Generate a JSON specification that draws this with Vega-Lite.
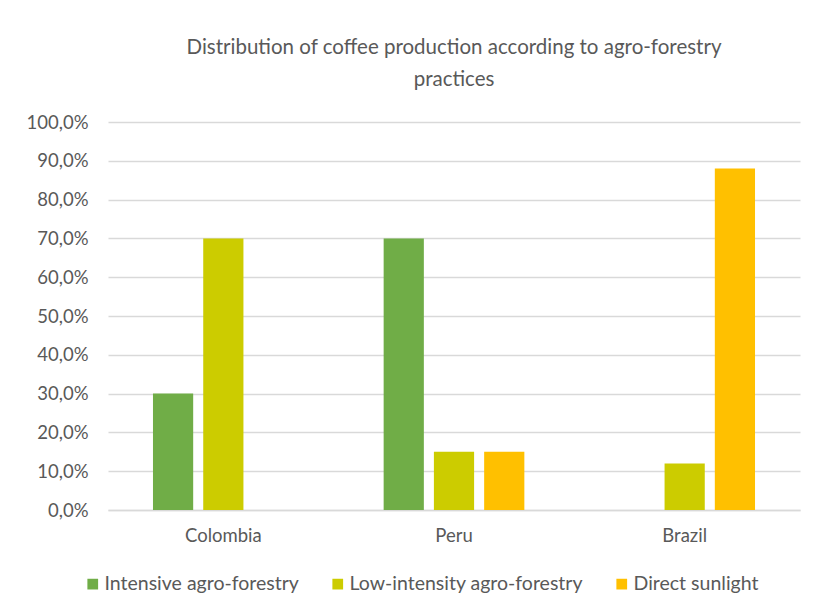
{
  "$schema": "https://vega.github.io/schema/vega-lite/v6.json",
  "autosize": "none",
  "width": 692,
  "height": 388,
  "padding": {"left": 108, "top": 122, "right": 13, "bottom": 101},
  "background": "white",
  "title": {
    "text": ["Distribution of coffee production according to agro-forestry", "practices"],
    "fontSize": 20.5,
    "font": "Lato, sans-serif",
    "fontWeight": "normal",
    "color": "#595959",
    "lineHeight": 32,
    "anchor": "middle",
    "offset": 23
  },
  "data": {
    "values": [
      {"country": "Colombia", "practice": "Intensive agro-forestry", "share": 0.30},
      {"country": "Colombia", "practice": "Low-intensity agro-forestry", "share": 0.70},
      {"country": "Peru", "practice": "Intensive agro-forestry", "share": 0.70},
      {"country": "Peru", "practice": "Low-intensity agro-forestry", "share": 0.15},
      {"country": "Peru", "practice": "Direct sunlight", "share": 0.15},
      {"country": "Brazil", "practice": "Low-intensity agro-forestry", "share": 0.12},
      {"country": "Brazil", "practice": "Direct sunlight", "share": 0.88}
    ]
  },
  "mark": {"type": "bar"},
  "encoding": {
    "x": {
      "field": "country",
      "type": "nominal",
      "sort": ["Colombia", "Peru", "Brazil"],
      "scale": {"paddingInner": 0.39, "paddingOuter": 0.195},
      "axis": {
        "title": null,
        "labelAngle": 0,
        "ticks": false,
        "labelPadding": 16,
        "labelFontSize": 18.5,
        "labelColor": "#595959",
        "labelFont": "Lato, sans-serif",
        "domainColor": "#D9D9D9",
        "domainWidth": 1.5
      }
    },
    "xOffset": {
      "field": "practice",
      "type": "nominal",
      "sort": ["Intensive agro-forestry", "Low-intensity agro-forestry", "Direct sunlight"],
      "scale": {"paddingInner": 0.2, "paddingOuter": 0}
    },
    "y": {
      "field": "share",
      "type": "quantitative",
      "scale": {"domain": [0, 1], "nice": false},
      "axis": {
        "title": null,
        "format": ".1%",
        "values": [0, 0.1, 0.2, 0.3, 0.4, 0.5, 0.6, 0.7, 0.8, 0.9, 1.0],
        "ticks": false,
        "domain": false,
        "labelPadding": 20,
        "labelFontSize": 18.5,
        "labelColor": "#595959",
        "labelFont": "Lato, sans-serif",
        "gridColor": "#D9D9D9",
        "gridWidth": 1.5
      }
    },
    "color": {
      "field": "practice",
      "type": "nominal",
      "sort": ["Intensive agro-forestry", "Low-intensity agro-forestry", "Direct sunlight"],
      "scale": {
        "domain": ["Intensive agro-forestry", "Low-intensity agro-forestry", "Direct sunlight"],
        "range": ["#70AD47", "#CCCC00", "#FFC000"]
      },
      "legend": {
        "title": null,
        "orient": "none",
        "legendX": -25,
        "legendY": 452,
        "direction": "horizontal",
        "symbolType": "square",
        "symbolSize": 115,
        "symbolStrokeWidth": 0,
        "labelFontSize": 19.5,
        "labelColor": "#595959",
        "labelFont": "Lato, sans-serif",
        "labelLimit": 0,
        "labelOffset": 2,
        "columnPadding": 29
      }
    }
  },
  "config": {
    "view": {"stroke": null},
    "locale": {
      "number": {"decimal": ",", "thousands": ".", "grouping": [3], "currency": ["", " €"]}
    }
  }
}
